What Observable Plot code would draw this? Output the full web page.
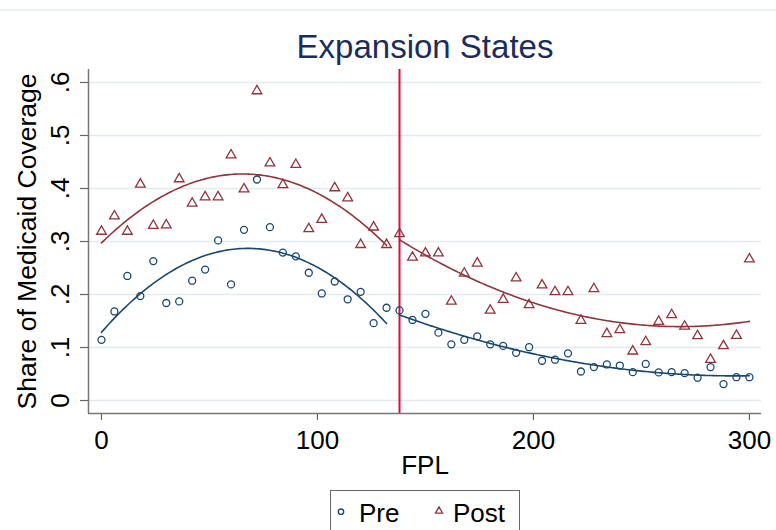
<!DOCTYPE html>
<html>
<head>
<meta charset="utf-8">
<script src="https://cdn.jsdelivr.net/npm/d3@7"></script>
<script src="https://cdn.jsdelivr.net/npm/@observablehq/plot@0.6"></script>
<style>
  body { margin: 0; background: #fff; font-family: "Liberation Sans", Arial, sans-serif; }
  #wrap { position: relative; width: 776px; height: 530px; overflow: hidden; background: #fff; }
  #topline { position: absolute; left: 0; top: 9px; width: 776px; height: 2px; background: #edf2f2; }
  #chart { position: absolute; left: 0; top: 0; }
  #legend { position: absolute; left: 330px; top: 490px; width: 190px; height: 60px; border: 1px solid #666; box-sizing: border-box; background: #fff; }
  #legend span { position: absolute; font-size: 26px; line-height: 26px; color: #000; white-space: nowrap; }
</style>
</head>
<body>
<div id="wrap">
  <div id="topline"></div>
  <div id="chart"></div>
  <div id="legend"></div>
</div>
<script>
// ---------------- data ----------------
const titleText = "Expansion States";
const xLabel = "FPL";
const yLabel = "Share of Medicaid Coverage";
const seriesNames = ["Pre", "Post"];
const cutoff = 138;

const fpl = [0, 6, 12, 18, 24, 30, 36, 42, 48, 54, 60, 66, 72, 78, 84, 90, 96, 102, 108, 114, 120, 126, 132,
             138, 144, 150, 156, 162, 168, 174, 180, 186, 192, 198, 204, 210, 216, 222, 228, 234, 240, 246,
             252, 258, 264, 270, 276, 282, 288, 294, 300];

const preShare = [0.1145, 0.168, 0.235, 0.197, 0.263, 0.184, 0.187, 0.226, 0.247, 0.302, 0.219, 0.322, 0.417,
                  0.327, 0.279, 0.272, 0.241, 0.202, 0.2245, 0.191, 0.205, 0.146, 0.175,
                  0.170, 0.152, 0.1635, 0.128, 0.106, 0.1145, 0.121, 0.106, 0.103, 0.090, 0.1006, 0.075, 0.077,
                  0.089, 0.0547, 0.063, 0.068, 0.066, 0.0535, 0.069, 0.053, 0.0535, 0.0516, 0.043, 0.063,
                  0.031, 0.044, 0.044];

const postShare = [0.319, 0.348, 0.319, 0.408, 0.330, 0.331, 0.418, 0.372, 0.384, 0.384, 0.463, 0.399, 0.584,
                   0.448, 0.407, 0.445, 0.324, 0.3415, 0.401, 0.382, 0.294, 0.327, 0.294,
                   0.3145, 0.270, 0.278, 0.278, 0.187, 0.240, 0.259, 0.170, 0.1906, 0.231, 0.1805, 0.2176, 0.205,
                   0.205, 0.151, 0.2107, 0.126, 0.1333, 0.093, 0.1107, 0.149, 0.1617, 0.140, 0.122, 0.0773,
                   0.103, 0.1226, 0.2667];

const xTicks = [0, 100, 200, 300];
const xTickLabels = ["0", "100", "200", "300"];
const yTicks = [0, 0.1, 0.2, 0.3, 0.4, 0.5, 0.6];
const yTickLabels = ["0", ".1", ".2", ".3", ".4", ".5", ".6"];

// ---------------- styling ----------------
const navy = "#1a476f";
const maroon = "#90353b";
const seriesColors = [navy, maroon];
const cutColor = "#d4103e";
const xDomain = [-6, 305.6];
const yDomain = [-0.0245, 0.6245];

// ---------------- table ----------------
const rows = [];
fpl.forEach((x, i) => {
  rows.push({x, y: preShare[i], s: "Pre"});
  rows.push({x, y: postShare[i], s: "Post"});
});

// quadratic least-squares fit (like Stata qfit) per side of the cutoff
function qfit(pts) {
  const m = [[0,0,0],[0,0,0],[0,0,0]], b = [0,0,0];
  for (const p of pts) {
    const v = [1, p.x, p.x * p.x];
    for (let j = 0; j < 3; j++) {
      b[j] += v[j] * p.y;
      for (let k = 0; k < 3; k++) m[j][k] += v[j] * v[k];
    }
  }
  for (let c = 0; c < 3; c++) {
    let piv = c;
    for (let r = c + 1; r < 3; r++) if (Math.abs(m[r][c]) > Math.abs(m[piv][c])) piv = r;
    [m[c], m[piv]] = [m[piv], m[c]]; [b[c], b[piv]] = [b[piv], b[c]];
    for (let r = c + 1; r < 3; r++) {
      const f = m[r][c] / m[c][c];
      for (let k = c; k < 3; k++) m[r][k] -= f * m[c][k];
      b[r] -= f * b[c];
    }
  }
  const coef = [0,0,0];
  for (let r = 2; r >= 0; r--) {
    let s = b[r];
    for (let k = r + 1; k < 3; k++) s -= m[r][k] * coef[k];
    coef[r] = s / m[r][r];
  }
  const xs = pts.map(p => p.x);
  const lo = d3.min(xs), hi = d3.max(xs);
  const out = [];
  for (let x = lo; x <= hi; x += 1) out.push({x, y: coef[0] + coef[1] * x + coef[2] * x * x});
  return out;
}

const fitRows = [];
for (const s of seriesNames) {
  for (const side of ["L", "R"]) {
    const pts = rows.filter(r => r.s === s && (side === "L" ? r.x < cutoff : r.x >= cutoff));
    qfit(pts).forEach(p => fitRows.push({...p, s, g: s + side}));
  }
}

const font = '"Liberation Sans", Arial, sans-serif';

const chart = Plot.plot({
  width: 776,
  height: 490,
  marginLeft: 88,
  marginRight: 15,
  marginTop: 69,
  marginBottom: 77,
  style: {fontFamily: font, background: "transparent", color: "#000", overflow: "visible"},
  x: {domain: xDomain},
  y: {domain: yDomain},
  color: {domain: seriesNames, range: seriesColors},
  marks: [
    Plot.gridY(yTicks, {stroke: "#e4ebef", strokeOpacity: 1, strokeWidth: 1.5}),
    Plot.axisY(yTicks, {tickSize: 8, tickFormat: () => "", stroke: "#666", strokeWidth: 1.2, label: null}),
    Plot.text(yTicks, {y: d => d, text: d => yTickLabels[yTicks.indexOf(d)], frameAnchor: "left", dx: -27.5,
                       rotate: -90, textAnchor: "middle", lineAnchor: "middle", fontSize: 26, fill: "#000"}),
    Plot.axisX(xTicks, {tickSize: 7, tickPadding: 10, fontSize: 26, label: null, stroke: "#666", strokeWidth: 1.2,
                        fill: "#000", tickFormat: d => xTickLabels[xTicks.indexOf(d)]}),
    Plot.ruleX([xDomain[0]], {stroke: "#777", strokeWidth: 1.5}),
    Plot.ruleY([yDomain[0]], {stroke: "#777", strokeWidth: 1.5}),
    Plot.ruleX([cutoff], {stroke: cutColor, strokeWidth: 2}),
    Plot.line(fitRows, {x: "x", y: "y", z: "g", stroke: "s", strokeWidth: 1.6, curve: "linear"}),
    Plot.dot(rows.filter(r => r.s === "Pre"), {x: "x", y: "y", r: 3.5, stroke: navy, strokeWidth: 1.3, fill: "none"}),
    Plot.dot(rows.filter(r => r.s === "Post"), {x: "x", y: "y", r: 3.6, symbol: "triangle", stroke: maroon,
                                                strokeWidth: 1.3, fill: "none"}),
    Plot.text([xLabel], {frameAnchor: "bottom", dy: 52, textAnchor: "middle", lineAnchor: "middle", fontSize: 26, fill: "#000"}),
    Plot.text([yLabel], {frameAnchor: "left", dx: -61, rotate: -90, textAnchor: "middle", lineAnchor: "middle",
                         fontSize: 26.5, fill: "#000"}),
    Plot.text([titleText], {frameAnchor: "top", dy: -22.4, textAnchor: "middle", lineAnchor: "middle",
                            fontSize: 33, fill: "#1c2d5b"})
  ]
});
document.getElementById("chart").appendChild(chart);

// ---------------- legend ----------------
const legend = document.getElementById("legend");
const ns = "http://www.w3.org/2000/svg";
const lsvg = document.createElementNS(ns, "svg");
lsvg.setAttribute("width", 188); lsvg.setAttribute("height", 58);
lsvg.style.position = "absolute"; lsvg.style.left = "0px"; lsvg.style.top = "0px";
legend.appendChild(lsvg);
const legendItems = [
  {name: seriesNames[0], mx: 10, my: 20.7, tx: 28, sym: d3.symbolCircle, size: Math.PI * 2.7 * 2.7, color: seriesColors[0]},
  {name: seriesNames[1], mx: 108, my: 20, tx: 122, sym: d3.symbolTriangle, size: 22, color: seriesColors[1]}
];
for (const it of legendItems) {
  const p = document.createElementNS(ns, "path");
  p.setAttribute("d", d3.symbol(it.sym, it.size)());
  p.setAttribute("transform", `translate(${it.mx},${it.my})`);
  p.setAttribute("fill", "none");
  p.setAttribute("stroke", it.color);
  p.setAttribute("stroke-width", 1.3);
  lsvg.appendChild(p);
  const sp = document.createElement("span");
  sp.textContent = it.name;
  sp.style.left = it.tx + "px";
  sp.style.top = "8.7px";
  legend.appendChild(sp);
}
</script>
</body>
</html>
